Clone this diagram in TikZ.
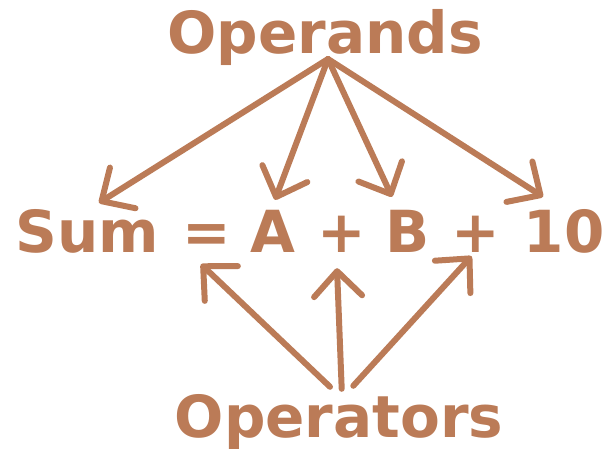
\documentclass[tikz,border=0pt]{standalone}
\usepackage{fontspec}
\setmainfont{DejaVu Sans}
\usepackage{tikz}
\usetikzlibrary{arrows.meta}
\definecolor{opbrown}{RGB}{187,123,87}
\newcommand{\bigtext}{\fontsize{58}{60}\selectfont\bfseries}
\tikzset{
  optext/.style={text=opbrown, font=\bigtext, inner sep=0pt, text height=42pt, text depth=0pt},
  oparrow/.style={draw=opbrown, line width=6pt, line cap=round,
    -{Straight Barb[length=25pt,width=48pt,round]}},
}

\begin{document}
\begin{tikzpicture}[x=1pt,y=-1pt]
  \useasboundingbox (0,0) rectangle (605,448);
  \node[optext,anchor=base] (opd) at (325,53) {Operands};
  \node[optext,anchor=base] (opr) at (339,437) {Operators};
  \node[optext,anchor=base] (sum) at (87,252) {Sum};
  \node[optext,anchor=base] (eq) at (206.5,252) {=};
  \node[optext,anchor=base] (a) at (273,252) {A};
  \node[optext,anchor=base] (plusa) at (342,252) {+};
  \node[optext,anchor=base] (b) at (408,252) {B};
  \node[optext,anchor=base] (plusb) at (475.5,252) {+};
  \node[optext,anchor=base] (ten) at (564,252) {10};
  \coordinate (opdtip) at (328,59);
  \foreach \n/\dx/\dy in {sum/12/7, a/2/10, b/-16/13, ten/-21/13}
    \draw[oparrow] (opdtip) -- ([xshift=\dx pt,yshift=\dy pt]\n.north);
  \draw[oparrow] ([xshift=-9pt,yshift=8pt]opr.north) -- ([xshift=-5.5pt,yshift=-12pt]eq.south);
  \draw[oparrow] ([xshift=2.7pt,yshift=6pt]opr.north) -- ([xshift=-5pt,yshift=-16pt]plusa.south);
  \draw[oparrow] ([xshift=14.3pt,yshift=9pt]opr.north) -- ([xshift=-4pt,yshift=-4pt]plusb.south);
\end{tikzpicture}
\end{document}
